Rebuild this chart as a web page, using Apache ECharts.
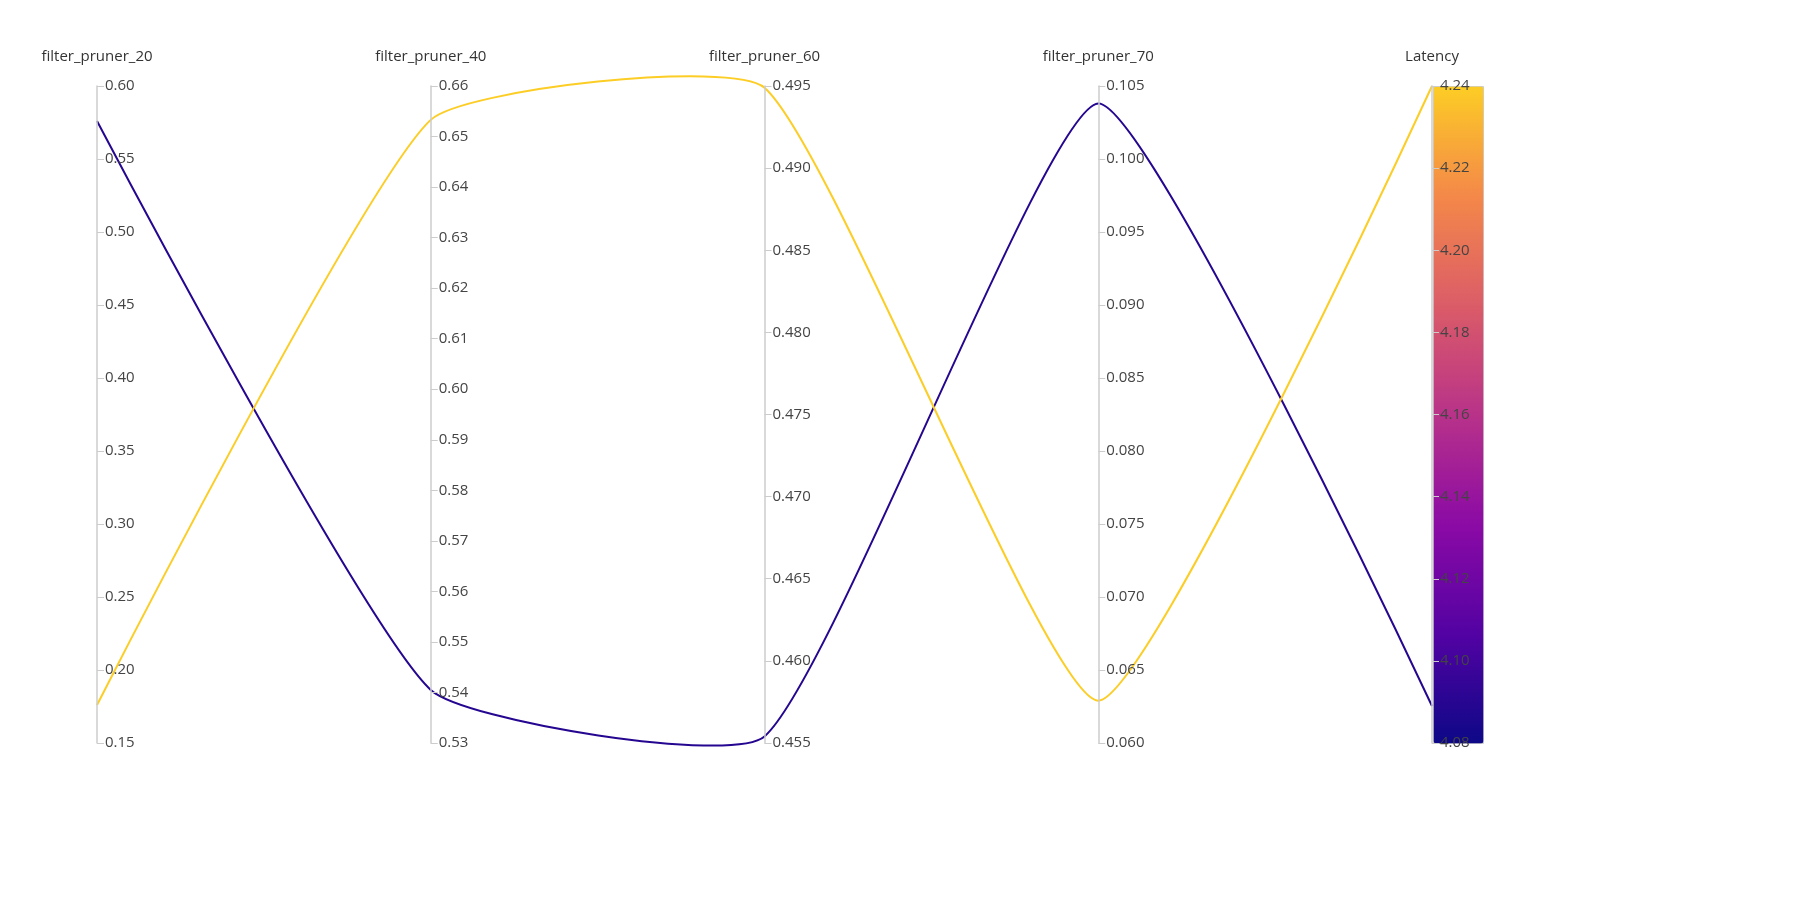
<!DOCTYPE html>
<html>
<head>
<meta charset="utf-8">
<script src="https://cdn.jsdelivr.net/npm/echarts@6/dist/echarts.min.js"></script>
<style>html,body{margin:0;background:#fff}#chart{width:1816px;height:904px}</style>
</head>
<body>
<div id="chart"></div>
<script>
const dims = ['filter_pruner_20', 'filter_pruner_40', 'filter_pruner_60', 'filter_pruner_70', 'Latency']
const axisMin = [0.15, 0.53, 0.455, 0.06, 4.08]
const axisMax = [0.60, 0.66, 0.495, 0.105, 4.24]
const axisStep = [0.05, 0.01, 0.005, 0.005, 0.02]
const axisDigits = [2, 2, 3, 3, 2]
const runs = [
  [0.576, 0.5405, 0.4554, 0.1038, 4.089],
  [0.176, 0.6533, 0.4949, 0.0629, 4.24]
]
const plasma = ['#0d0887', '#5302a3', '#8b0aa5', '#b83289', '#db5c68', '#f48849', '#fccd25']

var chart = echarts.init(document.getElementById('chart'))

var option = {
  backgroundColor: '#fff',
  parallel: {
    left: 97, right: 384, top: 86, bottom: 161,
    parallelAxisDefault: {
      nameLocation: 'end',
      nameGap: 22,
      nameTextStyle: { color: '#333', fontSize: 15, fontFamily: 'Open Sans' },
      axisLine: { lineStyle: { color: '#ccc', width: 1.5 } },
      axisTick: { lineStyle: { color: '#ccc' }, length: 7, inside: true },
      axisLabel: { color: '#444', fontSize: 15, fontFamily: 'Open Sans', inside: true },
      splitLine: { show: false }
    }
  },
  parallelAxis: dims.map((d, i) => ({
    dim: i, name: d, type: 'value',
    min: axisMin[i], max: axisMax[i], interval: axisStep[i],
    axisLabel: { formatter: v => v.toFixed(axisDigits[i]) }
  })),
  visualMap: {
    type: 'continuous', dimension: 4, min: 4.08, max: 4.24,
    inRange: { color: plasma },
    left: 1433, top: 86, itemWidth: 50, itemHeight: 657,
    calculable: false, text: null, showLabel: false,
    textStyle: { color: 'transparent' },
    borderColor: '#ccc', borderWidth: 1, padding: 0,
    hoverLink: false
  },
  series: [{
    type: 'parallel',
    smooth: 0.15,
    lineStyle: { width: 2, opacity: 1 },
    data: runs
  }]
}
chart.setOption(option)
</script>
</body>
</html>
